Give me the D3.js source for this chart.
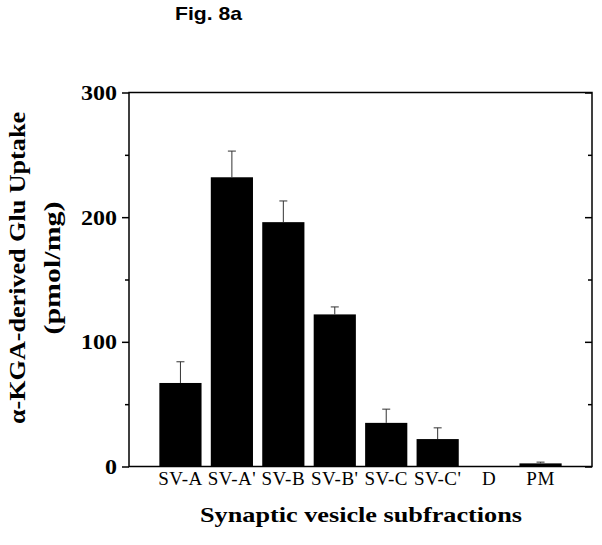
<!DOCTYPE html>
<html>
<head>
<meta charset="utf-8">
<script src="https://cdn.jsdelivr.net/npm/d3@7"></script>
<style>
  body { margin: 0; background: #fff; }
  svg { display: block; }
</style>
</head>
<body>
<div id="chart"></div>
<script>
  // values
  var categories = ["SV-A", "SV-A'", "SV-B", "SV-B'", "SV-C", "SV-C'", "D", "PM"];
  var uptake = [67, 232, 196, 122, 35, 22, 0, 2.5];
  var errors = [17, 21, 17, 6, 11, 9, 0, 1];
  var majorTicks = [0, 100, 200, 300];
  var minorTicks = [50, 150, 250];

(function() {
  var width = 602, height = 545;
  var plotL = 129, plotR = 592, plotT = 92.5, plotB = 466.5;
  var serif = "'Liberation Serif', 'Times New Roman', serif";

  var svg = d3.select("#chart").append("svg")
    .attr("width", width).attr("height", height);

  var x = d3.scaleLinear().domain([0, categories.length + 1]).range([plotL, plotR]);
  var y = d3.scaleLinear().domain([0, 300]).range([plotB, plotT]);
  var barW = (x(1) - x(0)) * 0.82;

  // title
  svg.append("text")
    .attr("x", 175).attr("y", 19.5)
    .attr("textLength", 67).attr("lengthAdjust", "spacingAndGlyphs")
    .style("font-family", "'Liberation Sans', Arial, sans-serif")
    .style("font-weight", "bold").style("font-size", "19px")
    .text("Fig. 8a");

  // bars
  svg.selectAll("rect.bar").data(uptake).enter().append("rect")
    .attr("class", "bar")
    .attr("x", function(d, i) { return x(i + 1) - barW / 2; })
    .attr("y", function(d) { return y(d); })
    .attr("width", barW)
    .attr("height", function(d) { return y(0) - y(d); })
    .style("fill", "#000");

  // error bars (upper only)
  var eb = svg.selectAll("g.err").data(uptake).enter().append("g")
    .attr("class", "err")
    .style("display", function(d, i) { return errors[i] > 0 ? null : "none"; });
  eb.append("line")
    .attr("x1", function(d, i) { return x(i + 1); })
    .attr("x2", function(d, i) { return x(i + 1); })
    .attr("y1", function(d) { return y(d); })
    .attr("y2", function(d, i) { return y(d + errors[i]); })
    .style("stroke", "#333").style("stroke-width", 1);
  eb.append("line")
    .attr("x1", function(d, i) { return x(i + 1) - 4; })
    .attr("x2", function(d, i) { return x(i + 1) + 4; })
    .attr("y1", function(d, i) { return y(d + errors[i]); })
    .attr("y2", function(d, i) { return y(d + errors[i]); })
    .style("stroke", "#333").style("stroke-width", 1);

  // left axis: major ticks outward with labels, minor outward
  var yAxis = d3.axisLeft(y).tickValues(majorTicks).tickSize(7).tickPadding(5)
    .tickFormat(d3.format("d"));
  var gL = svg.append("g").attr("transform", "translate(" + plotL + ",0)").call(yAxis);
  gL.select(".domain").remove();
  gL.selectAll("line").style("stroke", "#000").style("stroke-width", 1.5);
  gL.selectAll("text")
    .style("font-family", serif)
    .style("font-weight", "bold").style("font-size", "22px").style("fill", "#000")
    .attr("textLength", function(d) { return d === 0 ? 12 : 36; })
    .attr("lengthAdjust", "spacingAndGlyphs");
  var gLm = svg.append("g").attr("transform", "translate(" + plotL + ",0)")
    .call(d3.axisLeft(y).tickValues(minorTicks).tickSize(4).tickFormat(""));
  gLm.select(".domain").remove();
  gLm.selectAll("line").style("stroke", "#000").style("stroke-width", 1.5);

  // right axis: ticks inward, no labels
  var gR = svg.append("g").attr("transform", "translate(" + plotR + ",0)")
    .call(d3.axisRight(y).tickValues(majorTicks).tickSize(-7).tickFormat(""));
  gR.select(".domain").remove();
  gR.selectAll("line").style("stroke", "#000").style("stroke-width", 1.5);
  var gRm = svg.append("g").attr("transform", "translate(" + plotR + ",0)")
    .call(d3.axisRight(y).tickValues(minorTicks).tickSize(-4).tickFormat(""));
  gRm.select(".domain").remove();
  gRm.selectAll("line").style("stroke", "#000").style("stroke-width", 1.5);

  // frame
  svg.append("rect")
    .attr("x", plotL).attr("y", plotT)
    .attr("width", plotR - plotL).attr("height", plotB - plotT)
    .style("fill", "none").style("stroke", "#000").style("stroke-width", 1.5);

  // category labels
  svg.selectAll("text.cat").data(categories).enter().append("text")
    .attr("class", "cat")
    .attr("x", function(d, i) { return x(i + 1); })
    .attr("y", 485)
    .attr("text-anchor", "middle")
    .style("font-family", serif)
    .style("font-size", "19px").style("letter-spacing", "0.5px")
    .text(function(d) { return d; });

  // axis titles
  svg.append("text")
    .attr("x", 361).attr("y", 522)
    .attr("text-anchor", "middle")
    .attr("textLength", 322).attr("lengthAdjust", "spacingAndGlyphs")
    .style("font-family", serif)
    .style("font-weight", "bold").style("font-size", "22px")
    .text("Synaptic vesicle subfractions");

  var yt = svg.append("g").attr("transform", "translate(0,268) rotate(-90)");
  yt.append("text")
    .attr("x", 0).attr("y", 25)
    .attr("text-anchor", "middle")
    .attr("textLength", 312).attr("lengthAdjust", "spacingAndGlyphs")
    .style("font-family", serif)
    .style("font-weight", "bold").style("font-size", "23px")
    .text("\u03b1-KGA-derived Glu Uptake");
  yt.append("text")
    .attr("x", 0).attr("y", 60)
    .attr("text-anchor", "middle")
    .attr("textLength", 133).attr("lengthAdjust", "spacingAndGlyphs")
    .style("font-family", serif)
    .style("font-weight", "bold").style("font-size", "23px")
    .text("(pmol/mg)");
})();
</script>
</body>
</html>
